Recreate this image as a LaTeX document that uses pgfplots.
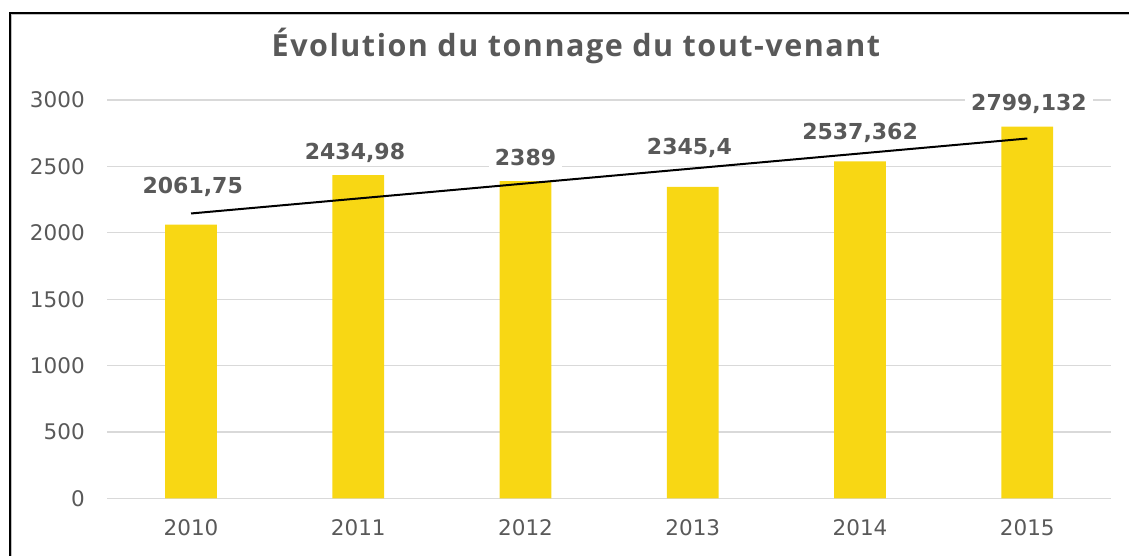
\documentclass[border=0pt]{standalone}
\usepackage{pgfplots}
\pgfplotsset{compat=1.18}
\usepackage{fontspec}
\setmainfont{DejaVu Sans}
\newfontfamily\titlefont{Open Sans}[LetterSpace=5]
\definecolor{barcol}{HTML}{F8D714}
\definecolor{txt}{HTML}{595959}
\definecolor{gridcol}{HTML}{D9D9D9}
\begin{document}
\begin{tikzpicture}[x=1pt,y=1pt]
\useasboundingbox (0,0) rectangle (1129,556);
\draw[line width=1.2pt, black!25] (11.4,-5) -- (11.4,541.6) -- (1140,541.6);
\draw[line width=2.3pt, black] (9.7,-5) -- (9.7,543.2) -- (1140,543.2);
\node[anchor=base, font=\titlefont\bfseries\fontsize{30.5}{33}\selectfont, text=txt] at (576,499.3) {Évolution du tonnage du tout-venant};
\begin{axis}[
  at={(107.4pt,57.5pt)}, anchor=south west,
  scale only axis, width=1003.6pt, height=398.5pt,
  xmin=-0.5, xmax=5.5, ymin=0, ymax=3000,
  ytick={0,500,...,3000},
  xtick={0,1,2,3,4,5},
  xticklabels={2010,2011,2012,2013,2014,2015},
  ymajorgrids, grid style={draw=gridcol, line width=1.3pt},
  axis line style={draw=none},
  major tick length=0pt,
  /pgf/number format/assume math mode=true,
  /pgf/number format/1000 sep={},
  yticklabel style={font=\fontsize{21.5}{24}\selectfont, text=txt, inner sep=0pt, anchor=east, xshift=-22.5pt},
  xticklabel style={font=\fontsize{21.5}{24}\selectfont, text=txt, inner sep=0pt, anchor=center, yshift=-29.5pt},
  clip=false,
]
\addplot[ybar, bar width=51.7pt, fill=barcol, draw=none] coordinates {
  (0,2061.75) (1,2434.98) (2,2389) (3,2345.4) (4,2537.362) (5,2799.132)};
\addplot[black, line width=2pt, no markers] coordinates {(0,2145.76) (5,2710.11)};
\addplot[only marks, mark=none, nodes near coords, point meta=explicit symbolic,
  nodes near coords style={anchor=center, font=\bfseries\fontsize{22}{24}\selectfont, text=txt, fill=white, inner xsep=6pt, inner ysep=2pt}]
  table[meta=lab] {
x y lab
0.01 2347 2061,75
0.98 2601 2434,98
2.00 2566 2389
2.98 2639 2345,4
4.00 2752 2537,362
5.01 2970 2799,132
};
\end{axis}
\end{tikzpicture}
\end{document}
